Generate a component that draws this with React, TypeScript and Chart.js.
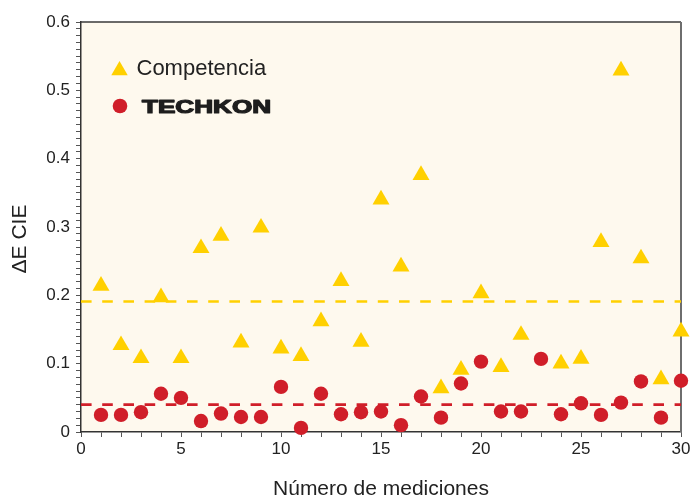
import React, { useEffect, useRef } from 'react';
import { Chart, registerables } from 'chart.js';

Chart.register(...registerables);

// ---- Data ----
const measurementNumbers = [1, 2, 3, 4, 5, 6, 7, 8, 9, 10, 11, 12, 13, 14, 15, 16, 17, 18, 19, 20, 21, 22, 23, 24, 25, 26, 27, 28, 29, 30];
const competenciaValues: (number | null)[] = [0.214, 0.127, 0.108, 0.197, 0.108, 0.269, 0.287, 0.131, 0.299, 0.122, 0.111, 0.162, 0.221, 0.132, 0.340, 0.242, 0.376, 0.064, 0.091, 0.203, 0.095, 0.142, null, 0.100, 0.107, 0.278, 0.529, 0.254, 0.077, 0.147];
const techkonValues = [0.025, 0.025, 0.029, 0.056, 0.050, 0.016, 0.027, 0.022, 0.022, 0.066, 0.006, 0.056, 0.026, 0.029, 0.030, 0.010, 0.052, 0.021, 0.071, 0.103, 0.030, 0.030, 0.107, 0.026, 0.042, 0.025, 0.043, 0.074, 0.021, 0.075];
const competenciaMean = 0.191;
const techkonMean = 0.040;
const meanLineRange = [0, 30];

const xTickLabels = [0, 5, 10, 15, 20, 25, 30];
const yTickLabels = [0, 0.1, 0.2, 0.3, 0.4, 0.5, 0.6];
const xMinorStep = 1;
const yMinorStep = 0.01;

const seriesNames = ['Competencia', 'TECHKON'];
const xTitle = 'Número de mediciones';
const yTitle = 'ΔE CIE';

const FONT = "'Liberation Sans', Arial, Helvetica, sans-serif";
const YELLOW = '#FFD000';
const RED = '#D01E29';

const decorPlugin = {
  id: 'decor',
  beforeDraw(chart: any) {
    const { ctx, chartArea: a } = chart;
    ctx.save();
    ctx.fillStyle = '#FEF9EE';
    ctx.fillRect(a.left, a.top, a.right - a.left, a.bottom - a.top);
    ctx.restore();
  },
  beforeDatasetsDraw(chart: any) {
    const { ctx, chartArea: a } = chart;
    ctx.save();
    ctx.strokeStyle = '#3a3a3a';
    ctx.lineWidth = 1.5;
    ctx.beginPath();
    ctx.moveTo(a.left, a.top);
    ctx.lineTo(a.right, a.top);
    ctx.stroke();
    ctx.strokeStyle = '#6e6e6e';
    ctx.lineWidth = 2;
    ctx.beginPath();
    ctx.moveTo(a.right, a.top);
    ctx.lineTo(a.right, a.bottom);
    ctx.stroke();
    ctx.restore();
  },
  afterDraw(chart: any) {
    const { ctx, chartArea: a } = chart;
    ctx.save();
    // axis titles
    ctx.fillStyle = '#222';
    ctx.font = `21px ${FONT}`;
    ctx.textAlign = 'center';
    ctx.textBaseline = 'alphabetic';
    ctx.fillText(xTitle, (a.left + a.right) / 2, 495);
    ctx.save();
    ctx.translate(26, 239);
    ctx.rotate(-Math.PI / 2);
    ctx.fillText(yTitle, 0, 0);
    ctx.restore();

    // legend
    const tx = 119.5, ty = 70.5, r = 9.5;
    ctx.fillStyle = YELLOW;
    ctx.beginPath();
    ctx.moveTo(tx, ty - r);
    ctx.lineTo(tx + r * Math.sin((2 * Math.PI) / 3), ty + r / 2);
    ctx.lineTo(tx - r * Math.sin((2 * Math.PI) / 3), ty + r / 2);
    ctx.closePath();
    ctx.fill();
    ctx.fillStyle = RED;
    ctx.beginPath();
    ctx.arc(120, 106, 7.3, 0, Math.PI * 2);
    ctx.fill();

    ctx.fillStyle = '#222';
    ctx.textAlign = 'left';
    ctx.textBaseline = 'alphabetic';
    ctx.font = `22px ${FONT}`;
    ctx.fillText(seriesNames[0], 136.5, 75);
    ctx.save();
    ctx.translate(142, 112.5);
    ctx.scale(1.45, 1);
    ctx.font = `bold 18px 'Liberation Sans', Arial, sans-serif`;
    ctx.fillStyle = '#1e1e1e';
    ctx.strokeStyle = '#1e1e1e';
    ctx.lineWidth = 1.2;
    ctx.lineJoin = 'round';
    ctx.fillText(seriesNames[1], 0, 0);
    ctx.strokeText(seriesNames[1], 0, 0);
    ctx.restore();
    ctx.restore();
  },
};

export default function App() {
  const canvasRef = useRef<HTMLCanvasElement | null>(null);

  useEffect(() => {
    if (!canvasRef.current) return;
    const yMinor: number[] = [];
    for (let i = 0; i <= Math.round(0.6 / yMinorStep); i++) yMinor.push(Math.round(i * yMinorStep * 1000) / 1000);
    const xMinor: number[] = [];
    for (let i = 0; i <= 30; i += xMinorStep) xMinor.push(i);

    const chart = new Chart(canvasRef.current, {
      type: 'scatter',
      data: {
        datasets: [
          {
            label: seriesNames[0],
            data: measurementNumbers.map((x, i) => ({ x, y: competenciaValues[i] as any })),
            pointStyle: 'triangle',
            pointRadius: 9.8,
            pointBorderWidth: 0,
            backgroundColor: YELLOW,
            borderColor: YELLOW,
            order: 0,
          } as any,
          {
            label: seriesNames[1],
            data: measurementNumbers.map((x, i) => ({ x, y: techkonValues[i] })),
            pointStyle: 'circle',
            pointRadius: 7.2,
            pointBorderWidth: 0,
            backgroundColor: RED,
            borderColor: RED,
            order: 0,
          },
          {
            label: 'mean1',
            data: meanLineRange.map((x) => ({ x, y: competenciaMean })),
            showLine: true,
            pointRadius: 0,
            borderColor: YELLOW,
            borderWidth: 2.6,
            borderDash: [10.6, 10.6],
            order: 1,
          },
          {
            label: 'mean2',
            data: meanLineRange.map((x) => ({ x, y: techkonMean })),
            showLine: true,
            pointRadius: 0,
            borderColor: RED,
            borderWidth: 2.6,
            borderDash: [10.6, 10.6],
            order: 1,
          },
        ],
      },
      options: {
        animation: false,
        responsive: false,
        maintainAspectRatio: false,
        clip: false as any,
        layout: { padding: { left: 0, top: 22, right: 15, bottom: 0 } },
        plugins: { legend: { display: false }, tooltip: { enabled: false } },
        scales: {
          x: {
            type: 'linear',
            min: 0,
            max: 30,
            afterBuildTicks: (scale: any) => {
              scale.ticks = xMinor.map((v) => ({ value: v }));
            },
            afterFit: (scale: any) => {
              scale.height = 65;
            },
            ticks: {
              autoSkip: false,
              maxRotation: 0,
              minRotation: 0,
              padding: 2,
              color: '#222',
              font: { family: FONT, size: 17 },
              callback: (v: any) => (xTickLabels.includes(Number(v)) ? String(v) : ''),
            },
            grid: { drawOnChartArea: false, drawTicks: true, tickLength: 5, color: '#555', lineWidth: 1 },
            border: { display: true, color: '#333', width: 1.5 },
          },
          y: {
            type: 'linear',
            min: 0,
            max: 0.6,
            afterBuildTicks: (scale: any) => {
              scale.ticks = yMinor.map((v) => ({ value: v }));
            },
            afterFit: (scale: any) => {
              scale.width = 81;
            },
            ticks: {
              autoSkip: false,
              padding: 6,
              color: '#222',
              font: { family: FONT, size: 17 },
              callback: (v: any) => {
                const n = Number(v);
                const hit = yTickLabels.find((t) => Math.abs(t - n) < 1e-6);
                if (hit === undefined) return '';
                return hit === 0 ? '0' : hit.toFixed(1);
              },
            },
            grid: { drawOnChartArea: false, drawTicks: true, tickLength: 5, color: '#555', lineWidth: 1 },
            border: { display: true, color: '#333', width: 1.5 },
          },
        },
      },
      plugins: [decorPlugin],
    });
    return () => chart.destroy();
  }, []);

  return (
    <div style={{ position: 'absolute', left: 0, top: 0, width: 696, height: 497, background: '#fff' }}>
      <canvas ref={canvasRef} width={696} height={497} style={{ width: 696, height: 497, display: 'block' }} />
    </div>
  );
}
